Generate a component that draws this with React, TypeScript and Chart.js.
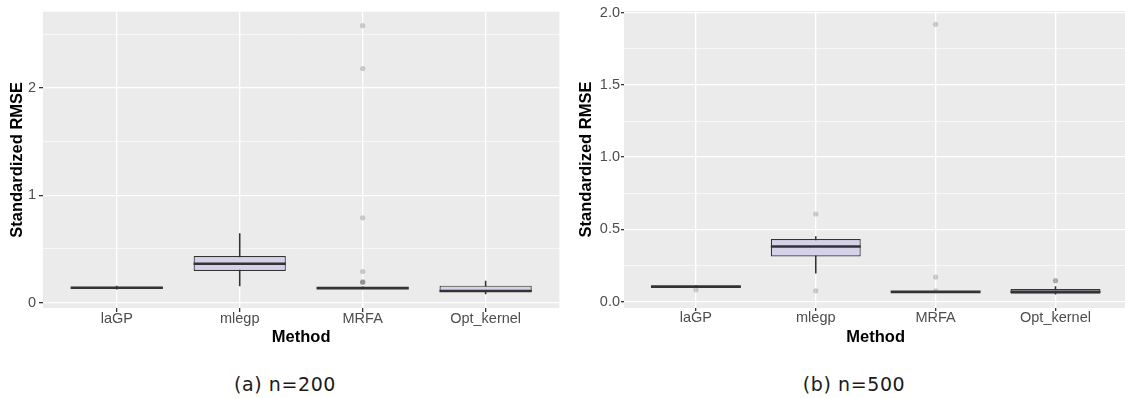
import React, { useEffect, useRef } from 'react';
import { Chart, registerables } from 'chart.js';

Chart.register(...registerables);

const METHODS = ['laGP', 'mlegp', 'MRFA', 'Opt_kernel'];

// Box-plot summaries, n = 200
const N200_LOWER = [0.125, 0.155, 0.127, 0.08];
const N200_Q1 = [0.132, 0.294, 0.131, 0.102];
const N200_MEDIAN = [0.138, 0.362, 0.135, 0.108];
const N200_Q3 = [0.143, 0.434, 0.139, 0.158];
const N200_UPPER = [0.155, 0.644, 0.148, 0.2];
const N200_OUTLIERS = [[], [], [2.58, 2.18, 0.79, 0.29, 0.195, 0.19, 0.19], []];
const N200_Y_MAJOR = [0, 1, 2];
const N200_Y_MINOR = [0.5, 1.5, 2.5];

// Box-plot summaries, n = 500
const N500_LOWER = [0.097, 0.197, 0.062, 0.05];
const N500_Q1 = [0.1, 0.312, 0.065, 0.054];
const N500_MEDIAN = [0.103, 0.381, 0.067, 0.068];
const N500_Q3 = [0.106, 0.433, 0.069, 0.086];
const N500_UPPER = [0.11, 0.45, 0.072, 0.104];
const N500_OUTLIERS = [[0.081], [0.606, 0.074], [1.92, 0.169, 0.074], [0.145, 0.143]];
const N500_Y_MAJOR = [0, 0.5, 1, 1.5, 2];
const N500_Y_MINOR = [0.25, 0.75, 1.25, 1.75];

const FONT = 'Liberation Sans, Arial, sans-serif';

type PanelProps = {
  lower: number[];
  q1: number[];
  median: number[];
  q3: number[];
  upper: number[];
  outliers: number[][];
  yMin: number;
  yMax: number;
  yMajor: number[];
  yMinor: number[];
  decimals: number;
  left: number;
  width: number;
  height: number;
  axisWidth: number;
  tickLength: number;
  tickPad: number;
  titlePad: number;
};

function BoxPanel(p: PanelProps) {
  const ref = useRef<HTMLCanvasElement | null>(null);

  useEffect(() => {
    if (!ref.current) return;
    const yTicks = [...p.yMajor, ...p.yMinor].sort((a, b) => a - b);
    const isMajor = (v: number) => p.yMajor.some((m) => Math.abs(m - v) < 1e-9);

    const outlierPoints: { x: number; y: number }[] = [];
    p.outliers.forEach((vals, i) => vals.forEach((v) => outlierPoints.push({ x: i + 1, y: v })));

    const decor = {
      id: 'boxDecor',
      beforeDraw(chart: any) {
        const { ctx, chartArea: a } = chart;
        ctx.save();
        ctx.fillStyle = '#EBEBEB';
        ctx.fillRect(a.left, a.top, a.right - a.left, a.bottom - a.top);
        ctx.restore();
      },
      afterDatasetDraw(chart: any, args: any) {
        if (args.index !== 1) return;
        const { ctx } = chart;
        const meta = chart.getDatasetMeta(1);
        const yScale = chart.scales.y;
        ctx.save();
        ctx.strokeStyle = '#333333';
        ctx.lineWidth = 2.6;
        meta.data.forEach((bar: any, i: number) => {
          const { x, width } = bar.getProps(['x', 'width'], true);
          const py = yScale.getPixelForValue(p.median[i]);
          ctx.beginPath();
          ctx.moveTo(x - width / 2, py);
          ctx.lineTo(x + width / 2, py);
          ctx.stroke();
        });
        ctx.restore();
      },
    };

    const chart = new Chart(ref.current, {
      type: 'bar',
      data: {
        datasets: [
          {
            type: 'scatter',
            data: outlierPoints,
            pointRadius: 2.6,
            pointBackgroundColor: 'rgba(80,80,80,0.26)',
            pointBorderWidth: 0,
            pointHoverRadius: 2.6,
          } as any,
          {
            type: 'bar',
            data: METHODS.map((_, i) => ({ x: i + 1, y: [p.q1[i], p.q3[i]] })),
            backgroundColor: '#D4D1E8',
            borderColor: '#333333',
            borderWidth: 1.2,
            borderSkipped: false,
            categoryPercentage: 1,
            barPercentage: 0.75,
            grouped: false,
          } as any,
          {
            type: 'bar',
            data: METHODS.map((_, i) => ({ x: i + 1, y: [p.lower[i], p.upper[i]] })),
            backgroundColor: '#333333',
            barThickness: 0.9,
            grouped: false,
          } as any,
        ],
      },
      options: {
        responsive: false,
        animation: false,
        devicePixelRatio: 1,
        layout: { padding: { top: 11, right: 1, left: 0, bottom: 0 } },
        plugins: { legend: { display: false }, tooltip: { enabled: false } },
        scales: {
          x: {
            type: 'linear',
            min: 0.4,
            max: 4.6,
            offset: false,
            afterBuildTicks: (s: any) => {
              s.ticks = METHODS.map((_, i) => ({ value: i + 1 }));
            },
            afterFit: (s: any) => {
              s.height = p.height - 308;
            },
            grid: {
              offset: false,
              color: '#FFFFFF',
              lineWidth: 1.3,
              tickColor: '#333333',
              tickLength: p.tickLength,
            },
            border: { display: false },
            ticks: {
              autoSkip: false,
              maxRotation: 0,
              padding: 0,
              color: '#4D4D4D',
              font: { family: FONT, size: 14.5, lineHeight: 1 },
              callback: (v: any) => METHODS[Math.round(Number(v)) - 1] ?? '',
            },
            title: {
              display: true,
              text: 'Method',
              color: '#000000',
              font: { family: FONT, size: 16.5, weight: 'bold' },
              padding: { top: 0, bottom: 3 },
            },
          },
          y: {
            type: 'linear',
            min: p.yMin,
            max: p.yMax,
            afterBuildTicks: (s: any) => {
              s.ticks = yTicks.map((v) => ({ value: v }));
            },
            afterFit: (s: any) => {
              s.width = p.axisWidth;
            },
            grid: {
              color: '#FFFFFF',
              lineWidth: (c: any) => (c.tick && isMajor(c.tick.value) ? 1.3 : 0.6),
              tickColor: (c: any) => (c.tick && isMajor(c.tick.value) ? '#333333' : 'rgba(0,0,0,0)'),
              tickLength: p.tickLength,
            },
            border: { display: false },
            ticks: {
              autoSkip: false,
              padding: p.tickPad,
              color: '#4D4D4D',
              font: { family: FONT, size: 14.5 },
              callback: (v: any) => (isMajor(Number(v)) ? Number(v).toFixed(p.decimals) : ''),
            },
            title: {
              display: true,
              text: 'Standardized RMSE',
              color: '#000000',
              font: { family: FONT, size: 16.5, weight: 'bold' },
              padding: { top: p.titlePad, bottom: 0 },
            },
          },
        },
      } as any,
      plugins: [decor],
    });

    return () => chart.destroy();
  }, []);

  return (
    <canvas
      ref={ref}
      width={p.width}
      height={p.height}
      style={{ position: 'absolute', left: p.left, top: 0, width: p.width, height: p.height }}
    />
  );
}

const captionStyle = (center: number): React.CSSProperties => ({
  position: 'absolute',
  left: center - 120,
  width: 240,
  top: 373,
  textAlign: 'center',
  fontFamily: 'DejaVu Sans, sans-serif',
  fontSize: 19,
  lineHeight: '22px',
  letterSpacing: 0.6,
  color: '#1A1A1A',
});

export default function App() {
  return (
    <div
      style={{
        position: 'absolute',
        left: 0,
        top: 0,
        width: 1125,
        height: 398,
        overflow: 'hidden',
        background: '#FFFFFF',
      }}
    >
      <BoxPanel
        lower={N200_LOWER}
        q1={N200_Q1}
        median={N200_MEDIAN}
        q3={N200_Q3}
        upper={N200_UPPER}
        outliers={N200_OUTLIERS}
        yMin={-0.05}
        yMax={2.71}
        yMajor={N200_Y_MAJOR}
        yMinor={N200_Y_MINOR}
        decimals={0}
        left={0}
        width={562}
        height={350}
        axisWidth={43}
        tickLength={4}
        tickPad={3}
        titlePad={8}
      />
      <BoxPanel
        lower={N500_LOWER}
        q1={N500_Q1}
        median={N500_MEDIAN}
        q3={N500_Q3}
        upper={N500_UPPER}
        outliers={N500_OUTLIERS}
        yMin={-0.045}
        yMax={2.012}
        yMajor={N500_Y_MAJOR}
        yMinor={N500_Y_MINOR}
        decimals={1}
        left={562}
        width={568}
        height={350}
        axisWidth={62}
        tickLength={3}
        tickPad={1}
        titlePad={15}
      />
      <div style={captionStyle(285)}>(a) n=200</div>
      <div style={captionStyle(854)}>(b) n=500</div>
    </div>
  );
}
